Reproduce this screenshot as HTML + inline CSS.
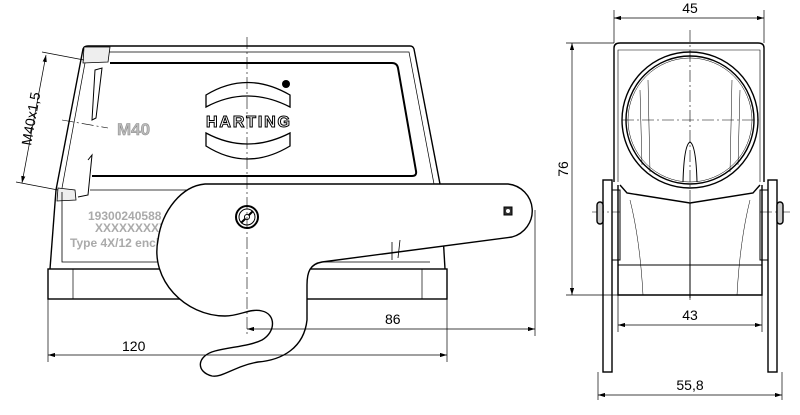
<!DOCTYPE html>
<html><head><meta charset="utf-8"><style>
html,body{margin:0;padding:0;background:#fff;}
svg{display:block;}
text{font-family:"Liberation Sans",sans-serif;}
</style></head><body>
<svg width="800" height="415" viewBox="0 0 800 415" xmlns="http://www.w3.org/2000/svg">
<defs><marker id="a" markerWidth="10" markerHeight="6" refX="10" refY="3" orient="auto-start-reverse"><path d="M0,0 L10,3 L0,6 z" fill="#000"/></marker></defs>
<g fill="none" stroke="#000" stroke-width="1.4">
<!-- upper body -->
<path d="M56,190 L83,49 Q84,46 88,46 L410,46 Q413,46 414,49 L440,184"/>
<path d="M62,188 L87,52 L409,52 L434,184" stroke-width="0.7"/>
<path d="M110,63 L392,63 Q397,63 398,68 L416,171 Q417,176 412,176 L92,176" stroke-width="2"/>
<path d="M95,70 L102,68 L96,118 L92,120 Z" stroke-width="1"/>
<path d="M88,160 L92,155 L88,195 L78,197" stroke-width="1"/>
<path d="M84,47 L110,47 L108,62 L83,63 Z" stroke-width="0.8" fill="#eee"/>
<path d="M58,188 L75,190 L76,200 L57,201 Z" stroke-width="0.8" fill="#eee"/>
<!-- lower body -->
<path d="M56,190 L50,269"/>
<path d="M62,192 L62,262 L430,262" stroke-width="0.8"/>
<path d="M440,184 L445,269"/>
<path d="M90,190 L205,190" stroke-width="0.8"/>
<rect x="48" y="269" width="399" height="30"/>
<line x1="73" y1="269" x2="73" y2="299" stroke-width="0.7"/>
<line x1="422" y1="269" x2="422" y2="299" stroke-width="0.7"/>
</g>
<!-- text on body -->
<g fill="#aaa" font-weight="bold">
<text x="117" y="135" font-size="17" fill="#bbb" stroke="#888" stroke-width="0.5">M40</text>
<text x="88" y="220" font-size="12">19300240588</text>
<text x="95" y="232" font-size="12">XXXXXXXXXX</text>
<text x="70" y="247" font-size="12">Type 4X/12 enclosure</text>
</g>
<!-- logo -->
<g fill="none" stroke="#000" stroke-width="1.3">
<path d="M206,107 L206,95 Q247,70 290,95 L290,107 Q247,85 206,107 Z"/>
<path d="M206,133 L206,146 Q247,172 290,146 L290,133 Q247,155 206,133 Z"/>
</g>
<circle cx="286" cy="84" r="4" fill="#000"/>
<text x="248" y="127" font-size="16" font-weight="bold" text-anchor="middle" fill="#fff" stroke="#000" stroke-width="1" textLength="84">HARTING</text>
<!-- lever -->
<path d="M205,184 L508,184 A27,27 0 0 1 512,237 L322,262 C310,264 307,272 307,285 L307,320 C304,348 282,360 258,362 C235,366 222,378 212,376 C196,372 196,356 215,351 C230,347 250,346 262,340 C276,332 276,314 262,311 C250,308 240,316 225,316 C185,316 150,280 158,240 C162,210 182,186 205,184 Z" fill="#fff" stroke="#000" stroke-width="1.4"/>
<path d="M400,240 L398,258 M392,242 L392,260" stroke="#000" stroke-width="0.8"/>
<circle cx="247" cy="217" r="11" fill="none" stroke="#000" stroke-width="2"/>
<circle cx="247" cy="217" r="8" fill="none" stroke="#000" stroke-width="1"/>
<line x1="241" y1="223" x2="253" y2="211" stroke="#000" stroke-width="2"/>
<circle cx="247" cy="217" r="2.5" fill="#fff" stroke="#000"/>
<rect x="504" y="207" width="8" height="8" fill="#333" stroke="#000"/>
<circle cx="508" cy="211" r="2" fill="#fff"/>
<!-- center lines -->
<g stroke="#000" stroke-width="0.6" stroke-dasharray="12,3,2,3" fill="none">
<line x1="247" y1="37" x2="247" y2="335"/>
<line x1="62" y1="120" x2="108" y2="128"/>
<line x1="690" y1="30" x2="690" y2="300"/>
<line x1="622" y1="120" x2="758" y2="120"/>
<line x1="592" y1="212" x2="620" y2="212"/>
<line x1="760" y1="212" x2="790" y2="212"/>
</g>
<!-- left dims -->
<g stroke="#000" stroke-width="0.7" fill="none">
<line x1="48" y1="299" x2="48" y2="362"/>
<line x1="447" y1="299" x2="447" y2="362"/>
<line x1="48" y1="355" x2="447" y2="355" marker-start="url(#a)" marker-end="url(#a)"/>
<line x1="535" y1="210" x2="535" y2="336"/>
<line x1="247" y1="329" x2="535" y2="329" marker-start="url(#a)" marker-end="url(#a)"/>
<line x1="42" y1="52" x2="84" y2="60"/>
<line x1="16" y1="182" x2="58" y2="190"/>
<line x1="46" y1="55" x2="22" y2="183" marker-start="url(#a)" marker-end="url(#a)"/>
</g>
<g font-size="14" fill="#000">
<text x="122" y="351">120</text>
<text x="385" y="324">86</text>
<text transform="translate(31,146) rotate(-80)">M40x1,5</text>
</g>
<!-- right view -->
<g fill="none" stroke="#000" stroke-width="1.4">
<path d="M614,182 L614,48 Q614,43 620,43 L758,43 Q764,43 764,48 L764,182"/>
<path d="M618,182 L618,50 L760,50 L760,182" stroke-width="0.6"/>
<circle cx="690" cy="120" r="68"/>
<circle cx="690" cy="120" r="64"/>
<circle cx="690" cy="120" r="62" stroke-width="0.5"/>
<path d="M683,182 Q684,145 690,142 Q696,145 697,182" stroke-width="1"/>
<path d="M648,80 L650,172 M732,80 L730,172 M640,90 L642,165 M740,90 L738,165" stroke-width="0.5"/>
<path d="M620,185 L627,193 L690,203 L753,193 L760,185"/>
<path d="M618,185 L618,295 L762,295 L762,185"/>
<line x1="618" y1="265" x2="762" y2="265" stroke-width="1"/>
<line x1="690" y1="203" x2="690" y2="298" stroke-width="1"/>
<path d="M630,200 Q640,240 643,295 M750,200 Q740,240 737,295" stroke-width="0.5"/>
<rect x="603" y="180" width="9" height="192"/>
<rect x="768" y="180" width="9" height="192"/>
<rect x="612" y="190" width="8" height="70" stroke-width="1"/>
<rect x="760" y="190" width="8" height="70" stroke-width="1"/>
<rect x="597" y="202" width="6" height="22" rx="3" fill="#ccc"/>
<rect x="777" y="202" width="6" height="22" rx="3" fill="#ccc"/>
</g>
<g stroke="#000" stroke-width="0.7" fill="none">
<line x1="614" y1="10" x2="614" y2="43"/>
<line x1="764" y1="10" x2="764" y2="43"/>
<line x1="614" y1="18" x2="764" y2="18" marker-start="url(#a)" marker-end="url(#a)"/>
<line x1="566" y1="43" x2="614" y2="43"/>
<line x1="566" y1="295" x2="618" y2="295"/>
<line x1="572" y1="43" x2="572" y2="295" marker-start="url(#a)" marker-end="url(#a)"/>
<line x1="618" y1="295" x2="618" y2="332"/>
<line x1="762" y1="295" x2="762" y2="332"/>
<line x1="618" y1="325" x2="762" y2="325" marker-start="url(#a)" marker-end="url(#a)"/>
<line x1="598" y1="372" x2="598" y2="400"/>
<line x1="782" y1="372" x2="782" y2="400"/>
<line x1="598" y1="395" x2="782" y2="395" marker-start="url(#a)" marker-end="url(#a)"/>
</g>
<g font-size="14" fill="#000" text-anchor="middle">
<text x="690" y="13">45</text>
<text x="690" y="320">43</text>
<text x="690" y="390">55,8</text>
<text transform="translate(568,169) rotate(-90)">76</text>
</g>
</svg>
</body></html>
